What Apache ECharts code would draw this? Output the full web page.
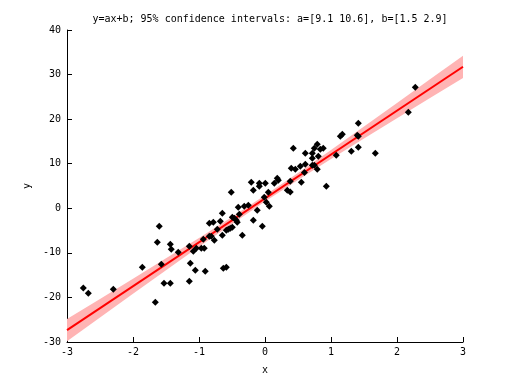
<!DOCTYPE html>
<html>
<head>
<meta charset="utf-8">
<script src="https://cdn.jsdelivr.net/npm/echarts@6/dist/echarts.min.js"></script>
<style>html,body{margin:0;padding:0;background:#fff;}#c{width:512px;height:384px;}</style>
</head>
<body>
<div id="c"></div>
<script>
var pointsX = [-2.753,-2.677,-2.298,-1.859,-1.662,-1.602,-1.632,-1.571,-1.530,-1.435,-1.435,-1.420,-1.314,-1.147,-1.132,-1.147,-1.056,-1.086,-1.041,-0.965,-0.920,-0.905,-0.935,-0.844,-0.783,-0.844,-0.814,-0.768,-0.723,-0.647,-0.677,-0.647,-0.632,-0.586,-0.586,-0.556,-0.526,-0.495,-0.495,-0.465,-0.435,-0.420,-0.389,-0.405,-0.344,-0.314,-0.253,-0.177,-0.117,-0.511,-0.208,-0.177,-0.086,-0.086,0.005,0.141,0.186,0.202,-0.011,0.065,-0.041,0.338,0.383,0.383,0.398,0.459,0.535,0.550,0.611,0.598,0.717,0.747,0.792,0.429,0.611,0.717,0.747,0.792,0.838,0.883,0.808,0.717,1.080,0.929,1.141,1.171,1.414,1.398,1.414,1.308,1.414,1.671,2.171,2.277,0.050,0.020];
var pointsY = [-17.88,-19.07,-18.17,-13.24,-21.09,-4.04,-7.63,-12.56,-16.83,-16.83,-8.08,-9.20,-9.87,-8.53,-12.34,-16.38,-13.91,-9.65,-8.97,-8.97,-8.97,-14.13,-6.96,-3.37,-3.14,-6.28,-6.28,-7.18,-4.71,-1.12,-2.92,-6.06,-13.46,-13.24,-4.94,-4.71,-4.49,-4.26,-2.02,-2.24,-2.69,-3.14,-1.35,0.22,-6.06,0.45,0.67,-2.69,-0.45,3.59,5.83,4.04,5.61,4.94,5.61,5.61,6.73,6.28,2.47,0.45,-4.04,4.04,3.66,6.06,8.97,8.75,9.42,5.83,9.87,8.03,9.65,9.65,8.75,13.46,12.34,12.34,13.46,14.36,13.24,13.46,11.67,11.22,11.89,4.94,16.15,16.60,19.07,16.38,16.15,12.79,13.69,12.34,21.54,27.15,3.59,1.35];

var fitX = [-3, 3];
var fitY = [-27.35, 31.75];

var bandX = [-3,-2.5,-2,-1.5,-1,-0.5,0,0.5,1,1.5,2,2.5,3];
var bandLow = [-29.85,-24.53,-19.2,-13.93,-8.65,-3.53,1.5,6.33,11.05,15.63,20.2,24.73,29.25];
var bandHigh = [-24.85,-20.33,-15.8,-11.23,-6.65,-1.93,2.9,7.93,13.05,18.33,23.6,28.93,34.25];

var xTicks = [-3,-2,-1,0,1,2,3];
var yTicks = [-30,-20,-10,0,10,20,30,40];

var titleText = 'y=ax+b; 95% confidence intervals: a=[9.1 10.6], b=[1.5 2.9]';

var font = 'DejaVu Sans Mono';
var chart = echarts.init(document.getElementById('c'), null, {renderer: 'canvas'});

var scatterData = pointsX.map(function (x, i) { return [x, pointsY[i]]; });
var fitData = fitX.map(function (x, i) { return [x, fitY[i]]; });

chart.setOption({
  animation: false,
  backgroundColor: '#ffffff',
  title: {
    text: titleText,
    left: 265,
    top: 9,
    textAlign: 'center',
    textStyle: {fontFamily: font, fontSize: 10, fontWeight: 'normal', color: '#000'}
  },
  grid: {left: 67, right: 49, top: 30, bottom: 42, containLabel: false},
  xAxis: {
    type: 'value', min: xTicks[0], max: xTicks[xTicks.length - 1], interval: 1,
    name: 'x', nameLocation: 'middle', nameGap: 23,
    nameTextStyle: {fontFamily: font, fontSize: 10, color: '#000'},
    axisLine: {show: true, onZero: false, lineStyle: {color: '#000', width: 1}},
    axisTick: {show: true, inside: true, length: 5, lineStyle: {color: '#000'}},
    axisLabel: {fontFamily: font, fontSize: 10, color: '#000', margin: 5},
    splitLine: {show: false}
  },
  yAxis: {
    type: 'value', min: yTicks[0], max: yTicks[yTicks.length - 1], interval: 10,
    name: 'y', nameLocation: 'middle', nameGap: 27, nameRotate: 90,
    nameTextStyle: {fontFamily: font, fontSize: 10, color: '#000'},
    axisLine: {show: true, onZero: false, lineStyle: {color: '#000', width: 1}},
    axisTick: {show: true, inside: true, length: 5, lineStyle: {color: '#000'}},
    axisLabel: {fontFamily: font, fontSize: 10, color: '#000', margin: 6},
    splitLine: {show: false}
  },
  series: [
    {
      type: 'custom',
      clip: true,
      z: 1,
      data: [[0, 0]],
      renderItem: function (params, api) {
        var pts = [];
        for (var i = 0; i < bandX.length; i++) pts.push(api.coord([bandX[i], bandHigh[i]]));
        for (var j = bandX.length - 1; j >= 0; j--) pts.push(api.coord([bandX[j], bandLow[j]]));
        return {type: 'polygon', shape: {points: pts}, style: {fill: '#ffb4b4', stroke: null}};
      }
    },
    {
      type: 'line', data: fitData, symbol: 'none', z: 2,
      lineStyle: {color: '#ff0000', width: 2}
    },
    {
      type: 'scatter', data: scatterData, symbol: 'diamond', symbolSize: 7, z: 3,
      itemStyle: {color: '#000', opacity: 1}
    }
  ]
});
</script>
</body>
</html>
